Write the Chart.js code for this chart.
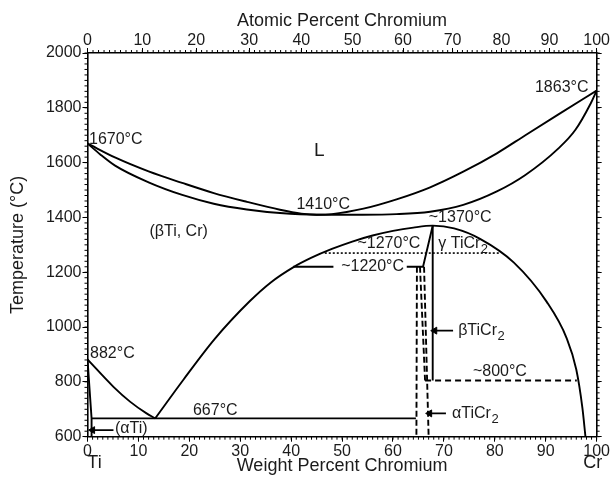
<!DOCTYPE html>
<html><head><meta charset="utf-8">
<script src="https://cdn.jsdelivr.net/npm/chart.js@4.4.1/dist/chart.umd.min.js"></script>
<style>html,body{margin:0;padding:0;background:#fff;} canvas{display:block;}</style>
</head><body>
<canvas id="c" width="610" height="477" style="width:610px;height:477px"></canvas>
<script>
// ---------- data: composition in weight % Cr, temperature in °C ----------
const weightTicks = [0,10,20,30,40,50,60,70,80,90,100];
const atomicTicks = [0,10,20,30,40,50,60,70,80,90,100];
const tempTicks = [600,800,1000,1200,1400,1600,1800,2000];

const liquidusWt = [0,5.5,12,18.6,24.8,31.3,37.8,42,45,48,54.2,60.7,67.3,73.8,80.4,86,92.5,100];
const liquidusT  = [1670,1618,1568,1526,1489,1457,1428,1414,1410,1412,1432,1466,1510,1567,1634,1700,1776,1863];

const solidusWt = [0,2.5,5.5,12,18.6,24.8,31.3,37.8,45,54,60.7,67.3,73.8,80.4,86,92.5,95.8,98.8,100];
const solidusT  = [1670,1630,1588,1528,1482,1450,1429,1416,1410,1410,1412,1421,1446,1495,1555,1652,1719,1815,1863];

const domeWt = [13.3,18.8,25,31.9,36,40.4,44,48,52,56,60,64,67.8,72,77.1,83.7,90.2,94.1,96,97.2,97.8];
const domeT  = [667,807,957,1095,1163,1218,1253,1285,1312,1334,1351,1363,1370,1360,1322,1236,1092,960,845,705,600];

const betaTransusWt = [0,5.1,8.35,11.6,13.3];
const betaTransusT  = [882,782,728,685,667];

const alphaTiWt = [0,0.8,0.8];
const alphaTiT  = [882,667,600];

const eutectoidWt = [0.8,64.5];
const eutectoidT  = [667,667];

const peritecticLeftWt = [40.4,48.3];
const peritecticLeftT  = [1220,1220];

const lavesLeftWt = [62.7,65.9,67.8];
const lavesLeftT  = [1220,1220,1370];

const lavesRightWt = [67.8,67.8];
const lavesRightT  = [1370,805];

const gammaDottedWt = [46.6,80.8];
const gammaDottedT  = [1270,1270];

const dashed800Wt = [66.3,96.1];
const dashed800T  = [805,805];

const dashA_Wt = [64.7,64.6];   const dashA_T = [1220,600];
const dashB_Wt = [65.3,66.3];   const dashB_T = [1220,805];
const dashC_Wt = [66.1,67.0];   const dashC_T = [1220,600];

// arrows: [tipWt, tailWt, T]
const arrowBeta  = [68.2,71.8,987];
const arrowAlpha = [67.2,70.4,685];
const arrowATi   = [1.0,5.1,624];

// annotation texts: [text, subscript, wt, T, align, size]
const notes = [
  ['1670°C','',0.3,1683,'left',16],
  ['L','',45.5,1642,'center',19],
  ['1410°C','',46.3,1448,'center',16],
  ['1863°C','',98.4,1874,'right',16],
  ['(βTi, Cr)','',17.9,1348,'center',16],
  ['~1370°C','',73.2,1400,'center',16],
  ['~1270°C','',59.2,1303,'center',16],
  ['γ TiCr','2',68.9,1303,'left',16],
  ['~1220°C','',56.0,1219,'center',16],
  ['βTiCr','2',72.8,987,'left',16],
  ['~800°C','',81.0,836,'center',16],
  ['αTiCr','2',71.6,683,'left',16],
  ['882°C','',0.5,902,'left',16],
  ['667°C','',25.1,694,'center',16],
  ['(αTi)','',5.4,628,'left',16]
];

// ---------- helpers ----------
const FONT = "'Liberation Sans', Arial, Helvetica, sans-serif";
const TXT = '#1b1b1b';
function atToWt(a){ return 100*a*51.996/(a*51.996+(100-a)*47.867); }
function pts(xs, ys){ return xs.map((x,i)=>({x:x, y:ys[i]})); }
function line(xs, ys, opt){
  return Object.assign({data:pts(xs,ys), showLine:true, borderColor:'#000', borderWidth:1.9,
    pointRadius:0, tension:0, fill:false}, opt||{});
}
const smooth = {tension:0.4, cubicInterpolationMode:'monotone'};
function arrow(a){
  return {data:[{x:a[0],y:a[2]},{x:a[1],y:a[2]}], showLine:true, borderColor:'#000', borderWidth:1.8,
    pointRadius:[4,0], pointStyle:'triangle', pointRotation:-90, pointBackgroundColor:'#000',
    pointBorderColor:'#000', pointBorderWidth:1};
}

const datasets = [
  line(liquidusWt, liquidusT, smooth),
  line(solidusWt, solidusT, smooth),
  line(domeWt, domeT, smooth),
  line(betaTransusWt, betaTransusT, smooth),
  line(alphaTiWt, alphaTiT),
  line(eutectoidWt, eutectoidT),
  line(peritecticLeftWt, peritecticLeftT),
  line(lavesLeftWt, lavesLeftT),
  line(lavesRightWt, lavesRightT),
  line(gammaDottedWt, gammaDottedT, {borderDash:[2,2], borderWidth:1.6}),
  line(dashed800Wt, dashed800T, {borderDash:[6,4]}),
  line(dashA_Wt, dashA_T, {borderDash:[6,3]}),
  line(dashB_Wt, dashB_T, {borderDash:[6,3]}),
  line(dashC_Wt, dashC_T, {borderDash:[6,3]}),
  arrow(arrowBeta), arrow(arrowAlpha), arrow(arrowATi)
];

// ---------- plugins ----------
const minorTicks = {
  id:'minorTicks',
  afterDraw(chart){
    const c = chart.ctx, s = chart.scales, a = chart.chartArea;
    c.save(); c.strokeStyle = '#000'; c.lineWidth = 1;
    c.beginPath();
    for (let t=600; t<=2000; t+=20){
      const y = s.y.getPixelForValue(t);
      c.moveTo(a.left-3, y); c.lineTo(a.left, y);
      c.moveTo(a.right, y); c.lineTo(a.right+3, y);
    }
    for (let w=0; w<=100; w+=1){
      const x = s.x.getPixelForValue(w);
      c.moveTo(x, a.bottom); c.lineTo(x, a.bottom+3);
    }
    for (let at=0; at<=100; at+=1){
      const x = s.x.getPixelForValue(atToWt(at));
      c.moveTo(x, a.top-3); c.lineTo(x, a.top);
    }
    c.stroke();
    c.restore();
  }
};

const notesPlugin = {
  id:'notes',
  afterDatasetsDraw(chart){
    const c = chart.ctx, s = chart.scales;
    c.save();
    c.fillStyle = TXT; c.textBaseline = 'middle';
    notes.forEach(n => {
      const [t, sub, wx, ty, align, size] = n;
      const px = s.x.getPixelForValue(wx), py = s.y.getPixelForValue(ty);
      c.font = size + 'px ' + FONT;
      const w = c.measureText(t).width;
      c.font = Math.round(size*0.8) + 'px ' + FONT;
      const sw = sub ? c.measureText(sub).width : 0;
      const total = w + sw;
      let left = px;
      if (align === 'center') left = px - total/2;
      else if (align === 'right') left = px - total;
      c.textAlign = 'left';
      c.font = size + 'px ' + FONT;
      c.fillText(t, left, py);
      if (sub){
        c.font = Math.round(size*0.8) + 'px ' + FONT;
        c.fillText(sub, left + w + 0.5, py + size*0.35);
      }
    });
    // element symbols under the bottom axis
    c.font = '18px ' + FONT;
    c.textAlign = 'center';
    const yb = chart.height - 14;
    c.fillText('Ti', s.x.getPixelForValue(0) + 7, yb);
    c.fillText('Cr', s.x.getPixelForValue(100) - 4, yb);
    c.restore();
  }
};

const tickFont = {family:FONT, size:16};
const titleFont = {family:FONT, size:18};
const gridOpt = {drawOnChartArea:false, color:'#000', tickLength:5, lineWidth:1};
const borderOpt = {display:true, color:'#000', width:1.6};

new Chart(document.getElementById('c'), {
  type:'scatter',
  data:{datasets},
  options:{
    responsive:false, animation:false, events:[],
    layout:{padding:0},
    plugins:{legend:{display:false}, tooltip:{enabled:false}},
    scales:{
      x:{type:'linear', position:'bottom', min:0, max:100,
        afterBuildTicks:s=>{ s.ticks = weightTicks.map(v=>({value:v})); },
        ticks:{font:tickFont, color:TXT, padding:0, maxRotation:0, autoSkip:false,
          callback:v=>String(v)},
        grid:gridOpt, border:borderOpt,
        title:{display:true, text:'Weight Percent Chromium', font:titleFont, color:TXT, padding:{top:0,bottom:0}},
        afterFit:s=>{ s.height = 40.3; }},
      x2:{type:'linear', position:'top', min:0, max:100,
        afterBuildTicks:s=>{ s.ticks = atomicTicks.map(v=>({value:atToWt(v)})); },
        ticks:{font:tickFont, color:TXT, padding:-2, maxRotation:0, autoSkip:false,
          callback:(v,i)=>String(atomicTicks[i])},
        grid:gridOpt, border:borderOpt,
        title:{display:true, text:'Atomic Percent Chromium', font:titleFont, color:TXT, padding:{top:10,bottom:0}},
        afterFit:s=>{ s.height = 53; }},
      y:{type:'linear', position:'left', min:600, max:2000,
        afterBuildTicks:s=>{ s.ticks = tempTicks.map(v=>({value:v})); },
        ticks:{font:tickFont, color:TXT, padding:1, callback:v=>String(v)},
        grid:gridOpt, border:borderOpt,
        title:{display:true, text:'Temperature (°C)', font:titleFont, color:TXT, padding:{top:7,bottom:0}},
        afterFit:s=>{ s.width = 87.5; }},
      y2:{type:'linear', position:'right', min:600, max:2000,
        afterBuildTicks:s=>{ s.ticks = tempTicks.map(v=>({value:v})); },
        ticks:{display:false},
        grid:gridOpt, border:borderOpt,
        afterFit:s=>{ s.width = 13; }}
    }
  },
  plugins:[minorTicks, notesPlugin]
});
</script>
</body></html>
